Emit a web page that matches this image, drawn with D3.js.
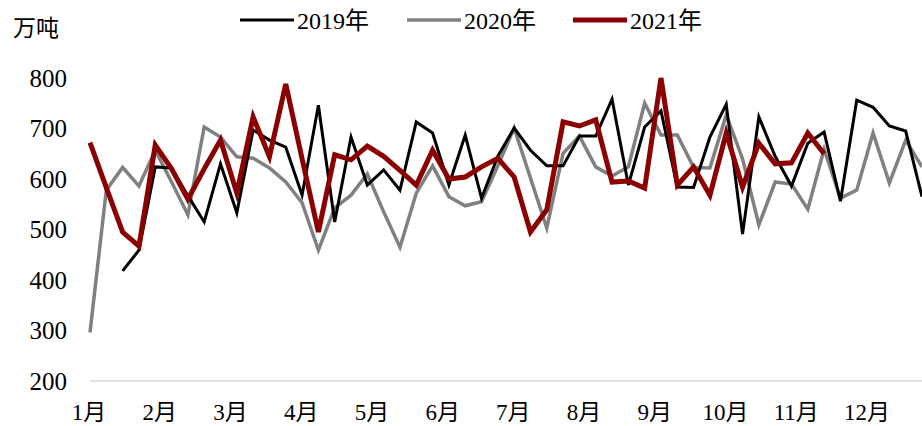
<!DOCTYPE html>
<html>
<head>
<meta charset="utf-8">
<title>weekly</title>
<script src="https://cdn.jsdelivr.net/npm/d3@7"></script>
<style>
  body { margin: 0; background: #fff; }
  text { font-family: "Liberation Serif", "Noto Sans CJK SC", serif; fill: #000; }
</style>
</head>
<body>
<div id="chart"></div>
<script>
var width = 922, height = 426;

// ----- data (weekly, 万吨) -----
var months = ['1月','2月','3月','4月','5月','6月','7月','8月','9月','10月','11月','12月'];
var yTicks = [200, 300, 400, 500, 600, 700, 800];
var seriesNames = ['2019年', '2020年', '2021年'];

var s2019 = [null, null, 418, 459, 624, 622, 567, 515, 630, 533, 697, 677, 663, 568, 746, 515,
  683, 588, 618, 578, 713, 691, 588, 687, 562, 645, 701, 657, 626, 626, 685, 685,
  758, 588, 703, 735, 584, 583, 683, 748, 491, 723, 645, 586, 671, 693, 556, 756,
  742, 705, 695, 565];
var s2020 = [296, 578, 623, 586, 657, 594, 529, 703, 683, 644, 641, 622, 594, 553, 459, 543,
  568, 610, 535, 465, 572, 626, 565, 547, 555, 626, 701, 602, 503, 651, 685, 624,
  606, 624, 750, 687, 687, 623, 622, 727, 640, 509, 594, 590, 540, 659, 562, 578,
  691, 592, 677, 624];
var s2021 = [672, 583, 495, 467, 667, 620, 560, 620, 677, 572, 723, 644, 788, 640, 495, 648,
  638, 665, 645, 617, 588, 657, 600, 604, 624, 641, 604, 495, 539, 713, 705, 717,
  594, 596, 582, 800, 588, 624, 568, 691, 584, 671, 630, 632, 691, 650];

var colors = ['#000000', '#808080', '#8b0000'];
var widths = [3, 3.5, 5];

// ----- helpers -----
function addLine(ctx, data, c, w) {
  var line = d3.line()
    .defined(function(d) { return d != null; })
    .x(function(d, i) { return x(i); })
    .y(function(d) { return y(d); });
  return ctx.append('path')
    .datum(data)
    .attr('fill', 'none')
    .attr('stroke', c)
    .attr('stroke-width', w)
    .attr('stroke-linejoin', 'miter')
    .attr('d', line);
}

// ----- main -----
var svg = d3.select('#chart').append('svg')
  .attr('width', width)
  .attr('height', height);

var x = d3.scaleLinear().domain([0, 51]).range([90, 922]);
var y = d3.scaleLinear().domain([200, 800]).range([381, 78]);
var xm = d3.scalePoint().domain(months).range([89, 867]);

// baseline
svg.append('line')
  .attr('x1', 90).attr('x2', 922)
  .attr('y1', y(200)).attr('y2', y(200))
  .attr('stroke', '#d9d9d9').attr('stroke-width', 1.5);

// y labels
svg.selectAll('.ytick').data(yTicks).enter().append('text')
  .attr('class', 'ytick')
  .attr('x', 67)
  .attr('y', function(d) { return y(d); })
  .attr('dy', '0.35em')
  .attr('text-anchor', 'end')
  .attr('font-size', 25)
  .text(function(d) { return d; });

// x labels
svg.selectAll('.xtick').data(months).enter().append('text')
  .attr('class', 'xtick')
  .attr('x', function(d) { return xm(d); })
  .attr('y', 412)
  .attr('dy', '0.35em')
  .attr('text-anchor', 'middle')
  .attr('font-size', 23)
  .text(function(d) { return d; });

// unit
svg.append('text')
  .attr('x', 13).attr('y', 28)
  .attr('dy', '0.35em')
  .attr('font-size', 23)
  .text('万吨');

// lines
addLine(svg, s2020, colors[1], widths[1]);
addLine(svg, s2019, colors[0], widths[0]);
addLine(svg, s2021, colors[2], widths[2]);

// legend
var legX = [240, 407, 573];
seriesNames.forEach(function(name, i) {
  var g = svg.append('g').attr('transform', 'translate(' + legX[i] + ',20)');
  g.append('line')
    .attr('x1', 0).attr('x2', 54)
    .attr('y1', 0).attr('y2', 0)
    .attr('stroke', colors[i])
    .attr('stroke-width', widths[i]);
  g.append('text')
    .attr('x', 57).attr('y', 1)
    .attr('dy', '0.35em')
    .attr('font-size', 24)
    .text(name);
});
</script>
</body>
</html>
